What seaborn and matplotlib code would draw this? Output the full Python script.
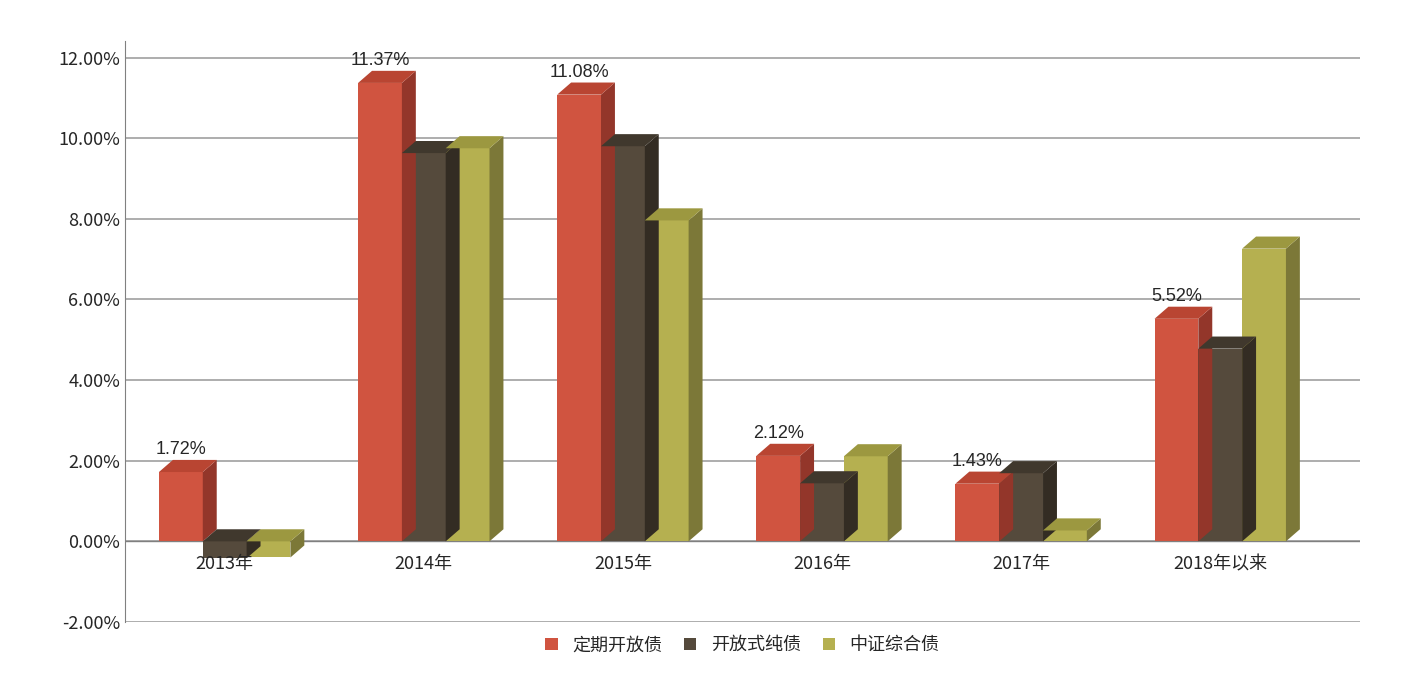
import numpy as np
import pandas as pd
import matplotlib
matplotlib.use("Agg")
import matplotlib.pyplot as plt
import seaborn as sns
from matplotlib.patches import Polygon
from matplotlib.ticker import FuncFormatter

years = ["2013年", "2014年", "2015年", "2016年", "2017年", "2018年以来"]
series = ["定期开放债", "开放式纯债", "中证综合债"]
dingqi = [1.72, 11.37, 11.08, 2.12, 1.43, 5.52]
kaifang = [-0.42, 9.63, 9.80, 1.44, 1.69, 4.78]
zhongzheng = [-0.40, 9.75, 7.96, 2.11, 0.27, 7.26]

df = pd.DataFrame({
    "year": years * 3,
    "series": sum([[s] * len(years) for s in series], []),
    "value": dingqi + kaifang + zhongzheng,
})

front = ["#D05440", "#554A3C", "#B5B050"]
side = ["#93362A", "#332C23", "#7C7838"]
top = ["#B94532", "#40382D", "#9C9840"]

sns.set_style("white")
plt.rcParams["font.family"] = ["Noto Sans CJK SC", "DejaVu Sans"]

fig = plt.figure(figsize=(14.06, 6.97), dpi=100)
ax = fig.add_axes([0.089, 0.1076, 0.878, 0.833])
sns.barplot(data=df, x="year", y="value", hue="series", palette=front,
            width=0.66, saturation=1, ax=ax, legend=True, zorder=3,
            edgecolor="none", linewidth=0)

ax.set_ylim(-2, 12.4)
ax.set_xlim(-0.5, 5.7)
ax.set_yticks(np.arange(-2, 12.01, 2))
ax.yaxis.set_major_formatter(FuncFormatter(lambda v, p: f"{v:.2f}%"))
ax.grid(axis="y", color="#A0A0A0", lw=1.2, zorder=0)
for s in ["top", "right", "bottom"]:
    ax.spines[s].set_visible(False)
ax.spines["left"].set_color("#808080")
ax.axhline(0, color="#808080", lw=1, zorder=2)
ax.set_xlabel("")
ax.set_ylabel("")
ax.tick_params(axis="both", labelsize=13, length=0)
ax.set_xticks(range(len(years)))
ax.set_xticklabels([])
for i, yr in enumerate(years):
    ax.text(i, -0.35, yr, ha="center", va="top", fontsize=13, zorder=4)

dx, dy = 0.07, 0.3
patches = [p for p in ax.patches if p.get_width() > 0][:18]
for i, p in enumerate(patches):
    k = i // len(years)
    x, w = p.get_x(), p.get_width()
    y0 = min(0, p.get_height())
    y1 = max(0, p.get_height())
    ax.add_patch(Polygon([[x + w, y0], [x + w + dx, y0 + dy], [x + w + dx, y1 + dy], [x + w, y1]],
                         closed=True, fc=side[k], ec="none", zorder=3))
    ax.add_patch(Polygon([[x, y1], [x + dx, y1 + dy], [x + w + dx, y1 + dy], [x + w, y1]],
                         closed=True, fc=top[k], ec="none", zorder=3))
    if k == 0:
        ax.text(x + w / 2, y1 + dy + 0.05, f"{dingqi[i]:.2f}%", ha="center", va="bottom",
                fontsize=13, family=["Liberation Sans", "DejaVu Sans"], zorder=4)

handles, labels = ax.get_legend_handles_labels()
ax.legend(handles, labels, loc="center", bbox_to_anchor=(0.5, -0.04), ncol=3,
          frameon=False, fontsize=13, handlelength=0.7, handleheight=0.7, columnspacing=1.2)

fig.savefig("out.png", dpi=100)
